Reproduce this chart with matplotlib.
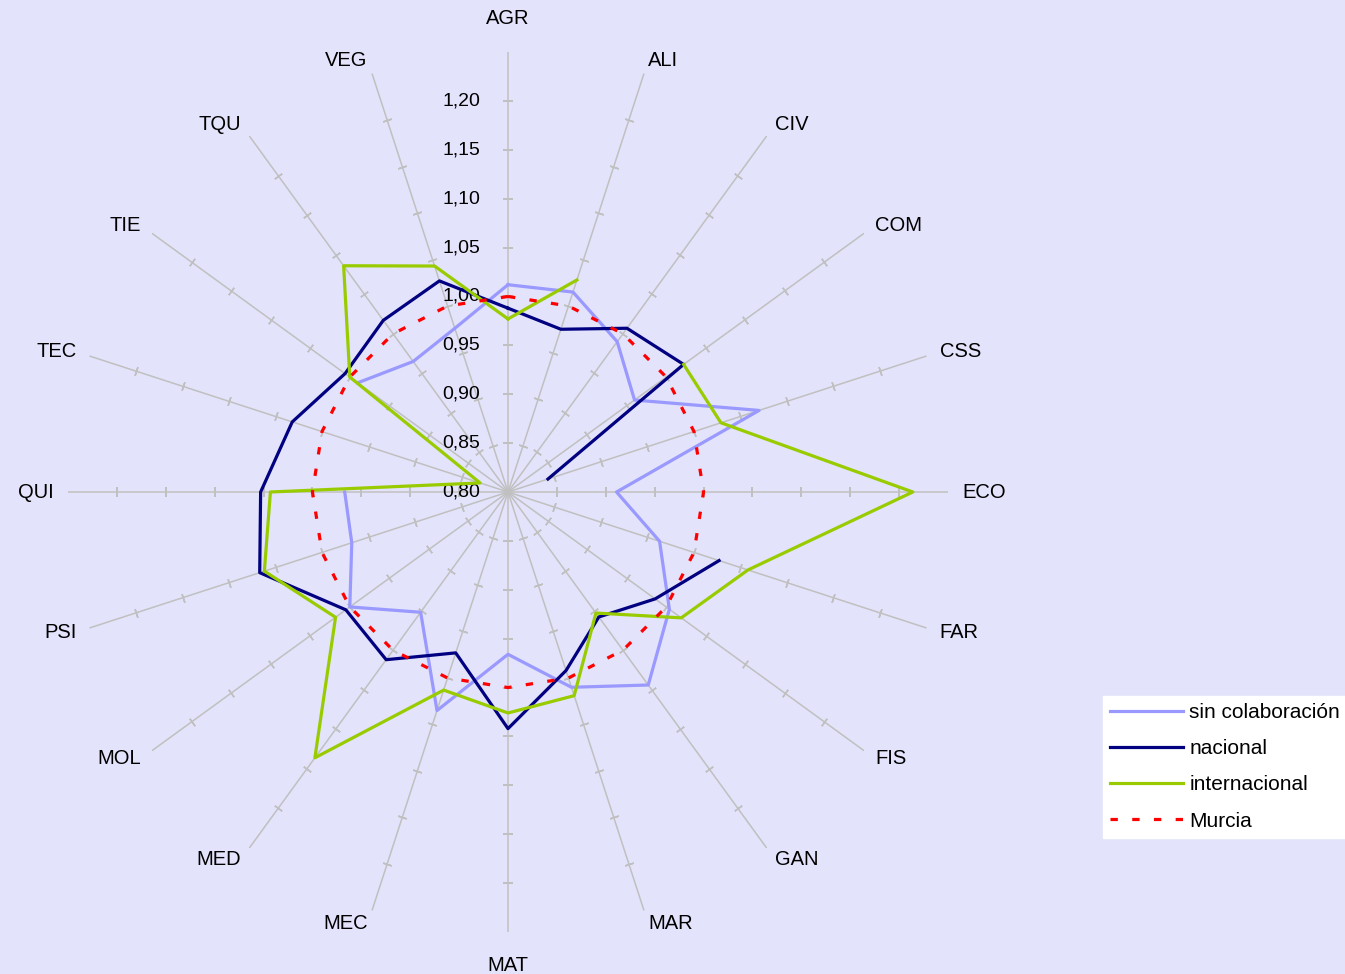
import matplotlib.pyplot as plt
import numpy as np

plt.rcParams['font.family'] = ['Liberation Sans', 'DejaVu Sans']

# --- data (NaN = no value, the line breaks there) ---
categories = ['AGR', 'ALI', 'CIV', 'COM', 'CSS', 'ECO', 'FAR', 'FIS', 'GAN', 'MAR',
              'MAT', 'MEC', 'MED', 'MOL', 'PSI', 'QUI', 'TEC', 'TIE', 'TQU', 'VEG']
sin_colaboracion = [1.012, 1.015, 0.990, 0.960, 1.070, 0.911, 0.963, 1.004, 1.044, 1.010,
                    0.966, 1.035, 0.952, 1.000, 0.968, 0.967, np.nan, 0.990, 0.965, 0.976]
nacional = [0.988, 0.975, 1.007, 1.022, 0.843, np.nan, 1.027, 0.986, 0.958, 0.992,
            1.042, 0.973, 1.012, 1.005, 1.067, 1.053, 1.032, 1.006, 1.017, 1.027]
internacional = [0.977, 1.028, np.nan, 1.022, 1.029, 1.214, 1.058, 1.019, 0.953, 1.019,
                 1.026, 1.013, 1.136, 1.018, 1.062, 1.043, 0.830, 1.000, 1.086, 1.043]
murcia = [1.00] * 20
radial_ticks = [0.80, 0.85, 0.90, 0.95, 1.00, 1.05, 1.10, 1.15, 1.20]

r_min, r_max = 0.80, 1.25
bg = '#E3E3FB'
grid_col = '#C0C0C0'

fig = plt.figure(figsize=(13.45, 9.74), dpi=100, facecolor=bg)
W, H = 1345, 974
cx, cy, rad = 508, 492, 440
ax = fig.add_axes([(cx - rad) / W, (H - cy - rad) / H, 2 * rad / W, 2 * rad / H],
                  projection='polar')
ax.set_facecolor(bg)
ax.set_theta_offset(np.pi / 2)
ax.set_theta_direction(-1)
ax.set_ylim(r_min, r_max)
ax.grid(False)
ax.spines['polar'].set_visible(False)
ax.set_xticks([])
ax.set_yticks([])

n = len(categories)
theta = np.arange(n) * 2 * np.pi / n
theta_closed = np.append(theta, theta[0])

# spokes with small perpendicular tick marks, category label beyond the end
for i, t in enumerate(theta):
    ax.plot([t, t], [r_min, r_max], color=grid_col, lw=1.1, zorder=1)
    deg = i * 360 / n
    ax.plot([t] * (len(radial_ticks) - 1), radial_ticks[1:], ls='none',
            marker=(2, 2, 90 - deg), ms=6.5, mew=1.1, color=grid_col, zorder=1)
    sx, sy = np.sin(t), np.cos(t)
    if abs(sx) < 1e-6:
        d = 17
        ha, va = 'center', ('bottom' if sy > 0 else 'top')
    else:
        d = 10
        ha, va = ('left' if sx > 0 else 'right'), 'center'
    ax.annotate(categories[i], xy=(t, r_max), xytext=(d * sx, d * sy),
                textcoords='offset points', ha=ha, va=va, fontsize=14.5)

for v in radial_ticks:
    ax.annotate(f'{v:.2f}'.replace('.', ','), xy=(0, v), xytext=(-20, 0),
                textcoords='offset points', ha='right', va='center', fontsize=14)


def closed(vals):
    return np.append(vals, vals[0])


lw = 2.3
h1, = ax.plot(theta_closed, closed(sin_colaboracion), color='#9999FF', lw=lw, zorder=3,
              label='sin colaboración')
h2, = ax.plot(theta_closed, closed(nacional), color='#000080', lw=lw, zorder=4,
              label='nacional')
h3, = ax.plot(theta_closed, closed(internacional), color='#99CC00', lw=lw, zorder=5,
              label='internacional')
h4, = ax.plot(theta_closed, closed(murcia), color='#FF0000', lw=lw, zorder=6,
              ls=(0, (2.3, 4.5)), label='Murcia')

leg = fig.legend(handles=[h1, h2, h3, h4], loc='upper left',
                 bbox_to_anchor=(1103 / W, 1 - 696 / H), fontsize=15,
                 frameon=True, fancybox=False, facecolor='white', edgecolor='white',
                 framealpha=1, handlelength=3.5, handletextpad=0.3,
                 labelspacing=0.82, borderpad=0.35, borderaxespad=0)

fig.savefig('out.png', dpi=100, facecolor=bg)
